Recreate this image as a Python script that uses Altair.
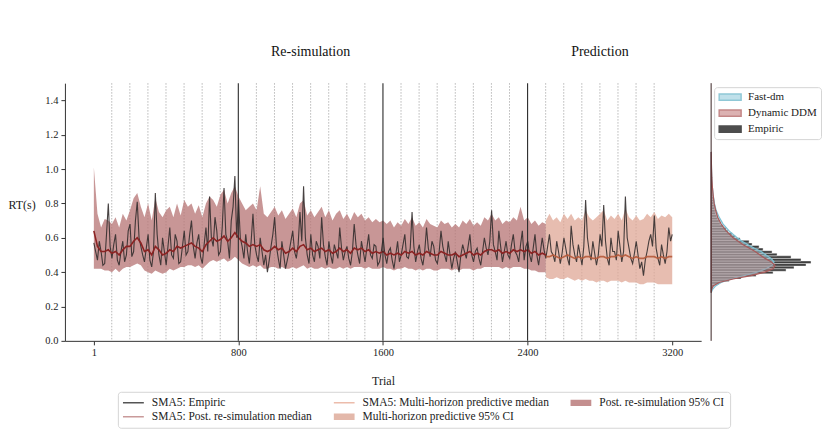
import altair as alt
import pandas as pd

FONT = "Liberation Serif"

# ---------------- data ----------------
trials_step20 = [1 + 20 * i for i in range(160)] + [3200]
trials_step10 = [1 + 10 * i for i in range(320)] + [3200]

empiric_sma5 = [
    0.57, 0.52, 0.47, 0.58, 0.52, 0.44, 0.45, 0.62, 0.80, 0.55,
    0.48, 0.56, 0.62, 0.47, 0.44, 0.52, 0.58, 0.46, 0.50, 0.64,
    0.68, 0.49, 0.52, 0.70, 0.81, 0.60, 0.55, 0.50, 0.46, 0.54,
    0.62, 0.47, 0.43, 0.52, 0.86, 0.62, 0.50, 0.44, 0.60, 0.52,
    0.44, 0.55, 0.66, 0.50, 0.48, 0.62, 0.58, 0.45, 0.46, 0.55,
    0.64, 0.50, 0.52, 0.62, 0.70, 0.55, 0.48, 0.57, 0.62, 0.49,
    0.45, 0.56, 0.66, 0.52, 0.84, 0.60, 0.55, 0.72, 0.64, 0.50,
    0.52, 0.66, 0.89, 0.62, 0.58, 0.48, 0.70, 0.78, 0.96, 0.60,
    0.82, 0.60, 0.55, 0.48, 0.62, 0.52, 0.45, 0.58, 0.74, 0.56,
    0.50, 0.46, 0.60, 0.52, 0.44, 0.50, 0.40, 0.47, 0.55, 0.62,
    0.72, 0.55, 0.48, 0.42, 0.58, 0.50, 0.42, 0.47, 0.52, 0.58,
    0.64, 0.52, 0.48, 0.56, 0.75, 0.58, 0.90, 0.60, 0.50, 0.45,
    0.62, 0.50, 0.46, 0.58, 0.55, 0.48, 0.72, 0.56, 0.49, 0.44,
    0.58, 0.50, 0.45, 0.56, 0.52, 0.48, 0.66, 0.54, 0.47, 0.52,
    0.55, 0.48, 0.44, 0.52, 0.68, 0.56, 0.50, 0.45, 0.58, 0.52,
    0.46, 0.54, 0.62, 0.50, 0.48, 0.56, 0.55, 0.44, 0.46, 0.52,
    0.60, 0.50, 0.45, 0.52, 0.54, 0.47, 0.42, 0.50, 0.58, 0.46,
    0.50, 0.56, 0.62, 0.49, 0.48, 0.54, 0.75, 0.55, 0.46, 0.52,
    0.56, 0.48, 0.44, 0.52, 0.66, 0.54, 0.49, 0.58, 0.55, 0.47,
    0.45, 0.52, 0.64, 0.55, 0.50, 0.46, 0.58, 0.50, 0.42, 0.48,
    0.52, 0.46, 0.40, 0.50, 0.56, 0.52, 0.48, 0.55, 0.62, 0.50,
    0.46, 0.52, 0.54, 0.48, 0.44, 0.52, 0.60, 0.54, 0.50, 0.58,
    0.76, 0.56, 0.52, 0.47, 0.64, 0.55, 0.46, 0.52, 0.58, 0.50,
    0.48, 0.56, 0.62, 0.52, 0.50, 0.46, 0.56, 0.64, 0.47, 0.55,
    0.58, 0.50, 0.46, 0.54, 0.62, 0.50, 0.44, 0.52, 0.60, 0.53,
    0.48, 0.55, 0.62, 0.52, 0.50, 0.46, 0.58, 0.52, 0.45, 0.51,
    0.60, 0.54, 0.48, 0.44, 0.67, 0.56, 0.50, 0.46, 0.56, 0.50,
    0.44, 0.55, 0.82, 0.60, 0.52, 0.47, 0.58, 0.51, 0.44, 0.50,
    0.62, 0.55, 0.79, 0.58, 0.48, 0.44, 0.60, 0.52, 0.52, 0.47,
    0.64, 0.55, 0.46, 0.52, 0.84, 0.60, 0.54, 0.48, 0.45, 0.51,
    0.58, 0.50, 0.42, 0.46, 0.38, 0.47, 0.52, 0.58, 0.62, 0.55,
    0.73, 0.54, 0.48, 0.44, 0.56, 0.50, 0.45, 0.52, 0.66, 0.58,
    0.62,
]

post_median = [
    0.64, 0.55, 0.52, 0.52, 0.53, 0.51, 0.52, 0.50, 0.53, 0.55,
    0.55, 0.58, 0.60, 0.57, 0.52, 0.53, 0.50, 0.55, 0.53, 0.50,
    0.51, 0.53, 0.52, 0.55, 0.54, 0.55, 0.56, 0.57, 0.55, 0.54,
    0.52, 0.56, 0.58, 0.60, 0.58, 0.59, 0.61, 0.58, 0.60, 0.63,
    0.60, 0.58, 0.57, 0.55, 0.56, 0.55, 0.56, 0.53, 0.52, 0.53,
    0.55, 0.53, 0.54, 0.51, 0.52, 0.54, 0.52, 0.55, 0.56, 0.53,
    0.54, 0.52, 0.53, 0.54, 0.52, 0.53, 0.51, 0.52, 0.54, 0.52,
    0.53, 0.51, 0.54, 0.53, 0.54, 0.52, 0.53, 0.51, 0.52, 0.51,
    0.52, 0.50, 0.51, 0.50, 0.51, 0.50, 0.52, 0.51, 0.52, 0.50,
    0.51, 0.50, 0.52, 0.51, 0.50, 0.50, 0.52, 0.51, 0.50, 0.50,
    0.51, 0.49, 0.50, 0.51, 0.52, 0.50, 0.51, 0.50, 0.52, 0.53,
    0.53, 0.52, 0.53, 0.51, 0.52, 0.51, 0.53, 0.52, 0.53, 0.52,
    0.53, 0.51, 0.52, 0.50, 0.51, 0.50,
]
post_lower = [
    0.42, 0.42, 0.42, 0.41, 0.41, 0.40, 0.42, 0.40, 0.42, 0.43,
    0.43, 0.44, 0.45, 0.44, 0.41, 0.40, 0.39, 0.41, 0.40, 0.39,
    0.40, 0.42, 0.41, 0.42, 0.43, 0.43, 0.44, 0.44, 0.43, 0.44,
    0.42, 0.44, 0.46, 0.47, 0.46, 0.47, 0.48, 0.46, 0.47, 0.49,
    0.47, 0.45, 0.44, 0.43, 0.44, 0.43, 0.44, 0.42, 0.42, 0.43,
    0.43, 0.42, 0.43, 0.42, 0.42, 0.43, 0.42, 0.43, 0.44, 0.42,
    0.43, 0.42, 0.42, 0.43, 0.42, 0.43, 0.42, 0.42, 0.43, 0.42,
    0.43, 0.42, 0.43, 0.43, 0.43, 0.42, 0.43, 0.42, 0.42, 0.42,
    0.43, 0.42, 0.42, 0.41, 0.42, 0.42, 0.43, 0.42, 0.42, 0.41,
    0.42, 0.41, 0.42, 0.42, 0.41, 0.41, 0.42, 0.42, 0.42, 0.41,
    0.42, 0.41, 0.42, 0.42, 0.42, 0.41, 0.42, 0.42, 0.43, 0.43,
    0.43, 0.43, 0.43, 0.42, 0.43, 0.42, 0.43, 0.43, 0.43, 0.42,
    0.42, 0.41, 0.41, 0.40, 0.40, 0.40,
]
post_upper = [
    1.01, 0.74, 0.66, 0.71, 0.70, 0.68, 0.72, 0.66, 0.74, 0.70,
    0.76, 0.83, 0.86, 0.78, 0.72, 0.80, 0.70, 0.83, 0.75, 0.72,
    0.76, 0.78, 0.72, 0.80, 0.73, 0.82, 0.78, 0.80, 0.74, 0.79,
    0.72, 0.80, 0.84, 0.82, 0.78, 0.85, 0.88, 0.80, 0.86, 0.90,
    0.84, 0.80, 0.76, 0.78, 0.80, 0.76, 0.90, 0.74, 0.72, 0.75,
    0.78, 0.73, 0.76, 0.71, 0.74, 0.77, 0.72, 0.80, 0.82, 0.73,
    0.76, 0.72, 0.75, 0.78, 0.72, 0.76, 0.70, 0.74, 0.76, 0.71,
    0.74, 0.70, 0.75, 0.72, 0.74, 0.70, 0.72, 0.69, 0.71, 0.69,
    0.70, 0.68, 0.70, 0.66, 0.69, 0.67, 0.71, 0.68, 0.72, 0.67,
    0.69, 0.66, 0.71, 0.68, 0.67, 0.66, 0.70, 0.68, 0.69, 0.66,
    0.68, 0.66, 0.70, 0.68, 0.71, 0.67, 0.69, 0.67, 0.72, 0.70,
    0.74, 0.70, 0.72, 0.68, 0.70, 0.69, 0.72, 0.70, 0.78, 0.70,
    0.72, 0.68, 0.70, 0.67, 0.69, 0.68,
]

pred_median = [
    0.49, 0.49, 0.50, 0.49, 0.48, 0.49, 0.50, 0.49, 0.48, 0.49,
    0.48, 0.49, 0.49, 0.48, 0.48, 0.49, 0.49, 0.48, 0.49, 0.49,
    0.50, 0.49, 0.50, 0.49, 0.48, 0.49, 0.48, 0.48, 0.49, 0.49,
    0.49, 0.48, 0.49, 0.48, 0.49, 0.49,
]
pred_lower = [
    0.37, 0.36, 0.36, 0.37, 0.36, 0.36, 0.37, 0.36, 0.35, 0.36,
    0.35, 0.36, 0.35, 0.35, 0.34, 0.35, 0.35, 0.34, 0.35, 0.35,
    0.35, 0.34, 0.35, 0.34, 0.34, 0.34, 0.33, 0.33, 0.34, 0.34,
    0.34, 0.33, 0.33, 0.33, 0.33, 0.33,
]
pred_upper = [
    0.70, 0.74, 0.70, 0.72, 0.69, 0.74, 0.71, 0.74, 0.70, 0.72,
    0.70, 0.76, 0.72, 0.70, 0.72, 0.74, 0.76, 0.70, 0.73, 0.71,
    0.74, 0.70, 0.77, 0.72, 0.70, 0.73, 0.70, 0.71, 0.74, 0.72,
    0.75, 0.71, 0.73, 0.72, 0.74, 0.72,
]

# marginal histogram (RT bins of 0.015 s starting at 0.285 s)
hist_first_edge = 0.285
hist_bin_width = 0.015
empiric_hist = [
    0.5, 1.5, 3, 8, 18, 30, 45, 62, 75, 83,
    95, 100, 90, 80, 66, 61, 52, 48, 41, 38,
    29, 24, 21, 17, 15, 12, 9, 8, 6.5, 5.5,
    4.5, 4, 3.5, 3, 2.5, 2.2, 2, 1.6, 1.4, 1.2,
    1, 0.9, 0.8, 0.7, 0.6, 0.5, 0.4, 0.3,
]
density_rt = [0.28, 0.30, 0.32, 0.34, 0.36, 0.38, 0.40, 0.42, 0.44, 0.46,
              0.48, 0.50, 0.52, 0.54, 0.56, 0.58, 0.60, 0.64, 0.68, 0.72,
              0.76, 0.80, 0.85, 0.90, 0.95, 1.00, 1.05, 1.10]
ddm_density = [0, 0.5, 2, 8, 22, 40, 54, 62, 64, 60,
               54, 49, 44, 38, 32, 27, 22, 15, 10, 6.5,
               4.5, 3, 2, 1.2, 0.7, 0.4, 0.2, 0]
fastdm_density = [0, 1.5, 4.5, 10, 20, 33, 46, 55, 61, 63,
                  60, 55, 50, 43, 37, 31, 26, 18, 12, 8,
                  5, 3.3, 2, 1.2, 0.7, 0.4, 0.2, 0]

solid_boundaries = [800, 1600, 2400]
dotted_boundaries = [t for t in range(100, 3200, 100) if t % 800 != 0]
section_labels = ["Re-simulation", "Prediction"]
section_centres = [1200, 2800]
x_ticks = [1, 800, 1600, 2400, 3200]
y_ticks = [0.0, 0.2, 0.4, 0.6, 0.8, 1.0, 1.2, 1.4]

# legend entries, in column-major order (the legend fills its 3 columns top to bottom)
legend_items = ["SMA5: Empiric", "SMA5: Post. re-simulation median",
                "SMA5: Multi-horizon predictive median", "Multi-horizon predictive 95% CI",
                "Post. re-simulation 95% CI"]
legend_colors = ["#555555", "#c99a9a", "#ecbcab", "#e3b8aa", "#c48f8f"]
LINE_SYM = "M-1,-0.07H1V0.07H-1Z"
PATCH_SYM = "M-1,-0.3H1V0.3H-1Z"
legend_shapes = [LINE_SYM, LINE_SYM, LINE_SYM, PATCH_SYM, PATCH_SYM]

marg_items = ["Fast-dm", "Dynamic DDM", "Empiric"]
marg_fill = ["#bfe0ea", "#dcb2b2", "#4d4d4d"]
marg_stroke = ["#8fc8d6", "#c38686", "#4d4d4d"]
MARG_SYM = "M-1,-0.29H1V0.29H-1Z"

# ---------------- tables ----------------
df_emp = pd.DataFrame({"t": trials_step10, "v": empiric_sma5})
df_post = pd.DataFrame({"t": trials_step20[:126], "med": post_median,
                        "lo": post_lower, "hi": post_upper})
df_pred = pd.DataFrame({"t": trials_step20[125:], "med": pred_median,
                        "lo": pred_lower, "hi": pred_upper})
df_dotted = pd.DataFrame({"t": dotted_boundaries})
df_solid = pd.DataFrame({"t": solid_boundaries})
df_sections = pd.DataFrame({"t": section_centres, "label": section_labels})
df_hist = pd.DataFrame({
    "lo": [hist_first_edge + k * hist_bin_width for k in range(len(empiric_hist))],
    "hi": [hist_first_edge + (k + 1) * hist_bin_width for k in range(len(empiric_hist))],
    "count": empiric_hist,
})
df_dens = pd.DataFrame({"rt": density_rt, "ddm": ddm_density, "fast": fastdm_density})
df_spine = pd.DataFrame({"c": [0]})
df_leg = pd.DataFrame({"item": legend_items})
df_mleg = pd.DataFrame({"item": marg_items})

# ---------------- scales & axes ----------------
xs = alt.Scale(domain=[-159, 3360], nice=False, zero=False, padding=0)
ys = alt.Scale(domain=[0, 1.5], nice=False, zero=False, padding=0)
ms = alt.Scale(domain=[0, 110], range=[647, 757], nice=False, zero=False, padding=0)

x_axis = alt.Axis(values=x_ticks, format="d", labelFont=FONT, titleFont=FONT,
                  labelFontSize=10.5, titleFontSize=12, tickSize=4, labelPadding=3,
                  titlePadding=17, domainColor="#333333", tickColor="#333333",
                  labelColor="#222222", titleColor="#222222", grid=False,
                  labelFlush=False, titleFontWeight="normal")
y_axis = alt.Axis(values=y_ticks, format=".1f", labelFont=FONT, titleFont=FONT,
                  labelFontSize=10.5, titleFontSize=12, tickSize=4, labelPadding=3,
                  domainColor="#333333", tickColor="#333333", labelColor="#222222",
                  titleColor="#222222", grid=False, titleFontWeight="normal",
                  titleAngle=0, titleAlign="left", titleBaseline="middle",
                  titleX=-57, titleY=121)


def X(f):
    return alt.X(f, scale=xs, axis=x_axis, title="Trial")


def Y(f):
    return alt.Y(f, scale=ys, axis=y_axis, title="RT(s)")


dotted = alt.Chart(df_dotted).mark_rule(color="#a6a6a6", strokeDash=[1.5, 1.5],
                                        strokeWidth=0.8).encode(x=X("t:Q"))
post_band = alt.Chart(df_post).mark_area(color="#b87878", opacity=0.78).encode(
    x=X("t:Q"), y=Y("lo:Q"), y2="hi:Q")
pred_band = alt.Chart(df_pred).mark_area(color="#dfa796", opacity=0.75).encode(
    x=X("t:Q"), y=Y("lo:Q"), y2="hi:Q")
emp_line = alt.Chart(df_emp).mark_line(color="#332d2d", strokeWidth=1.1, opacity=0.9).encode(
    x=X("t:Q"), y=Y("v:Q"))
post_line = alt.Chart(df_post).mark_line(color="#8b2323", strokeWidth=1.6).encode(
    x=X("t:Q"), y=Y("med:Q"))
pred_line = alt.Chart(df_pred).mark_line(color="#b5593a", strokeWidth=1.6, opacity=0.9).encode(
    x=X("t:Q"), y=Y("med:Q"))
solid = alt.Chart(df_solid).mark_rule(color="#2b2b2b", strokeWidth=1.1).encode(x=X("t:Q"))
sections = alt.Chart(df_sections).mark_text(font=FONT, fontSize=14, color="#111111",
                                            baseline="alphabetic", align="center").encode(
    x=X("t:Q"), y=alt.value(-27), text="label:N")

bottom_legend = alt.Legend(orient="none", legendX=53, legendY=309, columns=3,
                           columnPadding=21, rowPadding=2, padding=5, clipHeight=12,
                           labelFont=FONT, labelFontSize=11.5, labelColor="#222222",
                           labelOffset=8, labelLimit=300, symbolSize=441,
                           symbolStrokeWidth=0, strokeColor="#d5d5d5", cornerRadius=3,
                           fillColor="white", title=None)
legend_layer = alt.Chart(df_leg).mark_point(filled=True, opacity=1, size=441).encode(
    color=alt.Color("item:N", scale=alt.Scale(domain=legend_items, range=legend_colors),
                    legend=bottom_legend),
    shape=alt.Shape("item:N", scale=alt.Scale(domain=legend_items, range=legend_shapes),
                    legend=bottom_legend),
).transform_filter("false")

main = alt.layer(dotted, post_band, pred_band, emp_line, post_line, pred_line, solid,
                 sections, legend_layer)

# ---------------- marginal histogram ----------------
bars = alt.Chart(df_hist).mark_bar(color="#3f3f3f", stroke="white", strokeWidth=0.4,
                                   orient="horizontal").encode(
    x=alt.X("count:Q", scale=ms, axis=None), y=Y("lo:Q"), y2="hi:Q")
fast_area = alt.Chart(df_dens).mark_area(orient="horizontal", fill="#a9d6e3", fillOpacity=0.45,
                                         stroke="#7cc0d3", strokeWidth=1.2).encode(
    x=alt.X("fast:Q", scale=ms, axis=None), y=Y("rt:Q"))
ddm_area = alt.Chart(df_dens).mark_area(orient="horizontal", fill="#c08585", fillOpacity=0.4,
                                        stroke="#a85a5a", strokeWidth=1.2).encode(
    x=alt.X("ddm:Q", scale=ms, axis=None), y=Y("rt:Q"))
spine = alt.Chart(df_spine).mark_rule(color="#3a2424", strokeWidth=1).encode(
    x=alt.X("c:Q", scale=ms, axis=None))

marg_legend = alt.Legend(orient="none", legendX=650, legendY=4, symbolType=MARG_SYM,
                         symbolSize=484, symbolStrokeWidth=1.5, clipHeight=12,
                         labelFont=FONT, labelFontSize=11, labelColor="#222222",
                         labelOffset=6, labelLimit=200, rowPadding=4, padding=4,
                         strokeColor="#d5d5d5", cornerRadius=3, fillColor="white",
                         title=None)
marg_legend_layer = alt.Chart(df_mleg).mark_point(filled=True, opacity=1, size=484,
                                                  strokeWidth=1.5).encode(
    fill=alt.Fill("item:N", scale=alt.Scale(domain=marg_items, range=marg_fill),
                  legend=marg_legend),
    stroke=alt.Stroke("item:N", scale=alt.Scale(domain=marg_items, range=marg_stroke),
                      legend=marg_legend),
).transform_filter("false")

marg = alt.layer(bars, fast_area, ddm_area, spine, marg_legend_layer)

chart = (
    alt.layer(main, marg)
    .resolve_scale(x="independent")
    .properties(width=637, height=258, background="white",
                padding={"left": 0, "top": 37, "right": 0, "bottom": 0})
    .configure(font=FONT)
    .configure_view(strokeWidth=0)
)

chart.save("out.html", embed_options={"renderer": "svg", "actions": False})
